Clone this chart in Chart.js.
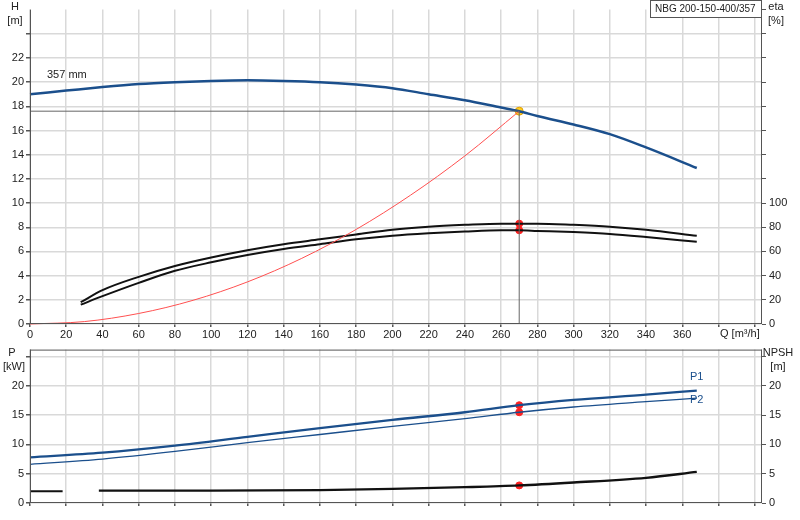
<!DOCTYPE html>
<html><head><meta charset="utf-8">
<script src="https://cdn.jsdelivr.net/npm/chart.js@4/dist/chart.umd.min.js"></script>
<style>body{margin:0;background:#fff;width:800px;height:520px;overflow:hidden;position:relative}
canvas{position:absolute;left:0}</style></head><body>
<canvas id="c1" width="800" height="345" style="top:0"></canvas>
<canvas id="c2" width="800" height="180" style="top:340px"></canvas>
<script>
const headQ=[0,20,40,60,80,100,120,140,160,180,200,220,240,260,270,280,300,320,340,368];
const headH=[19.0,19.3,19.6,19.85,20.0,20.1,20.15,20.1,20.0,19.8,19.5,19.0,18.5,17.9,17.6,17.2,16.5,15.7,14.6,12.9];
const etaQ=[28,40,60,80,100,120,140,160,180,200,220,240,260,270,280,300,320,340,368];
const eta1=[18,28,39,48,55,61,66,70,74,78,80.5,82,83,83,83,82,80.5,78,73];
const eta2=[16,23,34,44,51,57,62,66,70,73,75,76.5,77.5,77.5,77,76,74.5,72,68];
const sysQ=[0,30,60,90,120,150,180,210,240,270];
const sysH=[0,0.2,0.87,1.96,3.48,5.43,7.82,10.65,13.9,17.6];
const dutyQ=270, dutyH=17.6, dutyEta1=83, dutyEta2=77.5;
const powQ=[0,40,80,120,160,200,240,270,300,340,368];
const p1=[7.8,8.6,9.8,11.3,12.8,14.2,15.5,16.7,17.6,18.5,19.2];
const p2=[6.6,7.5,8.8,10.3,11.7,13.1,14.4,15.5,16.4,17.3,17.9];
const npshQ=[38,100,160,200,240,270,300,340,368];
const npsh=[2.1,2.1,2.2,2.4,2.7,3.0,3.5,4.3,5.3];
const npshLowQ=[0,18], npshLow=[2.0,2.0];
const dutyP1=16.7, dutyP2=15.5, dutyNpsh=3.0;

const F='"Liberation Sans", Arial, sans-serif';
const grid='#d9d9d9';
const xy=(xs,ys)=>xs.map((x,i)=>({x,y:ys[i]}));
const line=(data,color,w,axis,extra)=>Object.assign({type:'line',data,borderColor:color,borderWidth:w,pointRadius:0,cubicInterpolationMode:'monotone',fill:false,yAxisID:axis},extra||{});
const pt=(data,color,axis)=>({type:'scatter',data,backgroundColor:color,borderColor:color,pointRadius:3.5,yAxisID:axis});
const xTicks=s=>{s.ticks=[];for(let v=0;v<=400;v+=20)s.ticks.push({value:v});};
const frame={id:'frame',afterDraw(c,a,o){const ctx=c.ctx,ca=c.chartArea;ctx.save();ctx.strokeStyle='#555';ctx.lineWidth=1;
 ctx.beginPath();ctx.moveTo(ca.left+0.5,ca.top);ctx.lineTo(ca.left+0.5,ca.bottom);ctx.moveTo(ca.right-0.5,ca.top);ctx.lineTo(ca.right-0.5,ca.bottom);
 ctx.moveTo(ca.left,ca.bottom-0.5);ctx.lineTo(ca.right,ca.bottom-0.5);if(o.top){ctx.moveTo(ca.left,ca.top+0.5);ctx.lineTo(ca.right,ca.top+0.5);}ctx.stroke();
 ctx.font='11px '+F;(o.texts||[]).forEach(t=>{ctx.textAlign=t.a||'center';ctx.fillStyle=t.c||'#222';ctx.fillText(t.s,t.x,t.y);});
 if(o.box){ctx.font='10px '+F;ctx.fillStyle='#fff';ctx.fillRect(650,0,112,18);ctx.strokeStyle='#555';ctx.strokeRect(650.5,0.5,111,17);ctx.fillStyle='#222';ctx.textAlign='left';ctx.fillText('NBG 200-150-400/357',655,12);}
 ctx.restore();}};
const xScale=(labels)=>({type:'linear',min:0,max:404,afterBuildTicks:xTicks,
 grid:{color:grid,lineWidth:1.5,drawTicks:true,tickLength:3,tickColor:'#555'},border:{display:false},
 ticks:{display:labels,maxRotation:0,autoSkip:false,padding:1,color:'#222',font:{family:F,size:11},callback:v=>v<=360?v:''},
 afterFit:s=>{s.height=labels?21:17;}});
new Chart(document.getElementById('c1'),{data:{datasets:[
 line([{x:0,y:dutyH},{x:dutyQ,y:dutyH}],'#666',1,'y',{cubicInterpolationMode:'default'}),
 line([{x:dutyQ,y:0},{x:dutyQ,y:dutyH}],'#666',1,'y',{cubicInterpolationMode:'default'}),
 line(xy(sysQ,sysH),'#ff5050',1,'y'),
 line(xy(headQ,headH),'#1b4f8c',2.5,'y'),
 line(xy(etaQ,eta1),'#111',2,'eta'),
 line(xy(etaQ,eta2),'#111',2,'eta'),
 pt([{x:dutyQ,y:dutyEta1},{x:dutyQ,y:dutyEta2}],'#ff2020','eta'),
 {type:'scatter',data:[{x:dutyQ,y:dutyH}],backgroundColor:'#ffcc22',borderColor:'#e0a000',pointRadius:4,yAxisID:'y'}
]},options:{responsive:false,animation:false,clip:false,plugins:{legend:{display:false},tooltip:{enabled:false},
 frame:{box:true,texts:[{s:'H',x:15,y:10},{s:'[m]',x:15,y:24},{s:'eta',x:776,y:10},{s:'[%]',x:776,y:24},{s:'357 mm',x:47,y:78,a:'left'},{s:'Q [m³/h]',x:720,y:337,a:'left'}]}},
 layout:{padding:{top:-10,bottom:0,left:0,right:0}},
 scales:{x:xScale(true),
 y:{position:'left',min:0,max:26,afterBuildTicks:s=>{s.ticks=[];for(let v=0;v<=24;v+=2)s.ticks.push({value:v});},
  grid:{color:grid,lineWidth:1.5,tickLength:4,tickColor:'#555'},border:{display:false},
  ticks:{padding:2,color:'#222',font:{family:F,size:11},callback:v=>v<=22?v:''},afterFit:s=>{s.width=30;}},
 eta:{position:'right',min:0,max:260,afterBuildTicks:s=>{s.ticks=[];for(let v=0;v<=260;v+=20)s.ticks.push({value:v});},
  grid:{drawOnChartArea:false,tickLength:4,tickColor:'#555'},border:{display:false},
  ticks:{padding:3,color:'#222',font:{family:F,size:11},callback:v=>v<=100?v:''},afterFit:s=>{s.width=38;}}}},
 plugins:[frame]});
new Chart(document.getElementById('c2'),{data:{datasets:[
 line(xy(powQ,p1),'#1b4f8c',2.3,'y'),
 line(xy(powQ,p2),'#1b4f8c',1.3,'y'),
 line(xy(npshLowQ,npshLow),'#111',2,'n'),
 line(xy(npshQ,npsh),'#111',2.3,'n'),
 pt([{x:dutyQ,y:dutyP1},{x:dutyQ,y:dutyP2}],'#ff2020','y'),
 pt([{x:dutyQ,y:dutyNpsh}],'#ff2020','n')
]},options:{responsive:false,animation:false,plugins:{legend:{display:false},tooltip:{enabled:false},
 frame:{top:true,texts:[{s:'P',x:12,y:16},{s:'[kW]',x:14,y:30},{s:'NPSH',x:778,y:16},{s:'[m]',x:778,y:30},{s:'P1',x:690,y:40,c:'#1b4f8c',a:'left'},{s:'P2',x:690,y:63,c:'#1b4f8c',a:'left'}]}},
 layout:{padding:{top:-8}},
 scales:{x:xScale(false),
 y:{position:'left',min:0,max:26.2,afterBuildTicks:s=>{s.ticks=[];for(let v=0;v<=25;v+=5)s.ticks.push({value:v});},
  grid:{color:grid,lineWidth:1.5,tickLength:4,tickColor:'#555'},border:{display:false},
  ticks:{padding:2,color:'#222',font:{family:F,size:11},callback:v=>v<=20?v:''},afterFit:s=>{s.width=30;}},
 n:{position:'right',min:0,max:26.2,afterBuildTicks:s=>{s.ticks=[];for(let v=0;v<=25;v+=5)s.ticks.push({value:v});},
  grid:{drawOnChartArea:false,tickLength:4,tickColor:'#555'},border:{display:false},
  ticks:{padding:3,color:'#222',font:{family:F,size:11},callback:v=>v<=20?v:''},afterFit:s=>{s.width=38;}}}},
 plugins:[frame]});
</script></body></html>
